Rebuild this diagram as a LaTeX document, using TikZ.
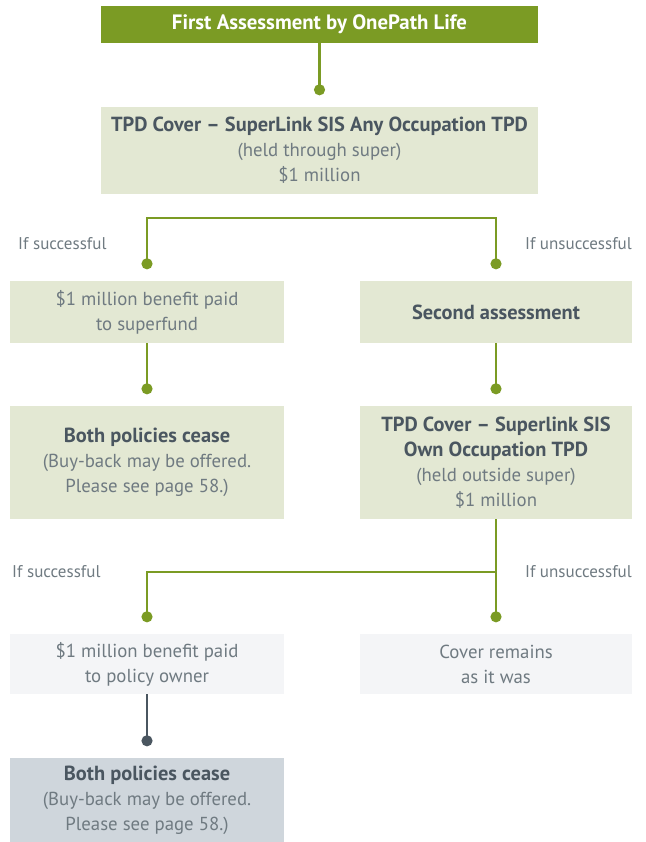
\documentclass[tikz,border=0pt]{standalone}
\usepackage{fontspec}
\setmainfont{PT Sans}
\usetikzlibrary{arrows.meta}
\definecolor{leaf}{HTML}{7B9B24}
\definecolor{leafl}{HTML}{E3E8D3}
\definecolor{fog}{HTML}{F4F5F7}
\definecolor{slatel}{HTML}{CFD6DC}
\definecolor{slate}{HTML}{4A5660}
\definecolor{inkm}{HTML}{6F7A81}
\tikzset{
  box/.style={fill=leafl,text=inkm,align=center,inner sep=0pt,font=\fontsize{18.8}{25}\selectfont},
  boxl/.style={box,minimum width=274pt},
  boxr/.style={box,minimum width=272pt},
  head/.style={box,fill=leaf,text=white,minimum width=437pt,minimum height=37pt,font=\fontsize{20.8}{25}\selectfont\bfseries},
  link/.style={-{Circle[length=11pt,width=11pt]},leaf,line width=2.4pt,shorten >=11.5pt},
  linkd/.style={link,slate},
  cond/.style={inkm,inner sep=0pt,font=\fontsize{17}{20}\selectfont},
}
\newcommand{\hd}[1]{\textcolor{slate}{\fontsize{20.4}{25}\selectfont\bfseries #1}}

\begin{document}
\begin{tikzpicture}[x=1pt,y=-1pt]
  \useasboundingbox (0,0) rectangle (645,842);
  % --- erste Pruefung ---
  \node[head] (first) at (319.5,24.5) {First Assessment by OnePath Life};
  \node[box,minimum width=437pt,minimum height=87pt] (tpd) at (319.5,150.5)
    {\hd{TPD Cover -- SuperLink SIS Any Occupation TPD}\\(held through super)\\\$1 million};
  \draw[link] (first.south) -- (tpd.north);
  % --- erste Verzweigung ---
  \node[cond,anchor=west] (ok1) at (18,244) {If successful};
  \node[cond,anchor=east] (ko1) at (632,244) {If unsuccessful};
  \node[boxl,minimum height=62pt] (paid1) at (147,312) {\$1 million benefit paid\\to superfund};
  \node[boxr,minimum height=62pt] (second) at (496,312) {\hd{Second assessment}};
  \draw[link,{Circle[length=11pt,width=11pt]}-{Circle[length=11pt,width=11pt]},shorten <=11.5pt]
    (paid1.north) -- ++(0,-63) -| (second.north);
  \node[boxl,minimum height=113pt] (cease1) at (147,462.5)
    {\hd{Both policies cease}\\(Buy-back may be offered.\\Please see page 58.)};
  \node[boxr,minimum height=113pt] (own) at (496,462.5)
    {\hd{TPD Cover -- Superlink SIS}\\\hd{Own Occupation TPD}\\(held outside super)\\\$1 million};
  \draw[link] (paid1.south) -- (cease1.north);
  \draw[link] (second.south) -- (own.north);
  % --- zweite Verzweigung ---
  \node[cond,anchor=west] (ok2) at (12,572) {If successful};
  \node[cond,anchor=east] (ko2) at (632,572) {If unsuccessful};
  \node[boxl,fill=fog,minimum height=60pt] (paid2) at (147,664) {\$1 million benefit paid\\to policy owner};
  \node[boxr,fill=fog,minimum height=60pt] (remain) at (496,664) {Cover remains\\as it was};
  \coordinate (split) at (496,572);
  \draw[link] (own.south) -- (remain.north);
  \draw[link] (split) -| (paid2.north);
  \node[boxl,fill=slatel,minimum height=84pt] (cease2) at (147,800)
    {\hd{Both policies cease}\\(Buy-back may be offered.\\Please see page 58.)};
  \draw[linkd] (paid2.south) -- (cease2.north);
\end{tikzpicture}
\end{document}
